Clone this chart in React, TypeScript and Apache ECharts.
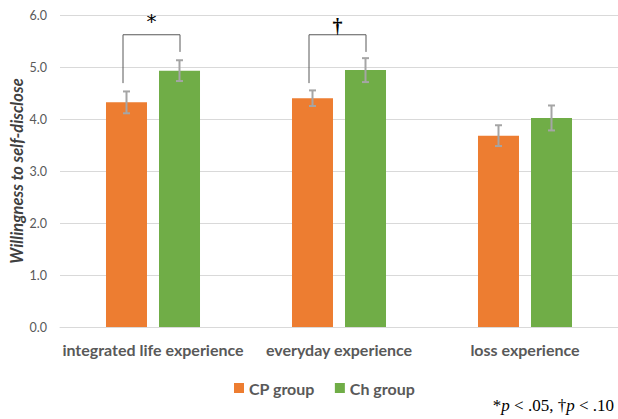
import React, { useEffect, useRef } from "react";
import * as echarts from "echarts";

// Experience categories on the x axis
const categories = ["integrated life experience", "everyday experience", "loss experience"];
// Group means
const cpValues = [4.32, 4.4, 3.68];
const chValues = [4.93, 4.94, 4.02];
// Error bar half-lengths
const cpErrors = [0.21, 0.15, 0.2];
const chErrors = [0.2, 0.23, 0.24];
// Significance brackets: category, left leg end, right leg end, bracket top, mark
const bracketCats = [0, 1];
const bracketLeftEnds = [4.69, 4.69];
const bracketRightEnds = [5.29, 5.29];
const bracketTops = [5.62, 5.62];
const bracketMarks = ["*", "†"];
// Y-axis ticks
const yTicks = { min: 0, max: 6, interval: 1 };

const BAR_WIDTH = 41;
const BAR_GAP_PX = 12;
const BAR_OFFSET = (BAR_WIDTH + BAR_GAP_PX) / 2;
const ORANGE = "#ED7D31";
const GREEN = "#70AD47";
const ERR_COLOR = "#a5a5a5";
const TEXT_DARK = "#404040";
const TEXT_MID = "#595959";
const FONT = "Lato, 'Open Sans', sans-serif";
const SERIF = "'Liberation Serif', 'Times New Roman', serif";

function errorSeries(name: string, values: number[], errors: number[], offset: number) {
  return {
    name: name + " error",
    type: "custom",
    z: 5,
    silent: true,
    data: values.map((v, i) => [i, v - errors[i], v + errors[i]]),
    renderItem: (_params: any, api: any) => {
      const cat = api.value(0);
      const lo = api.coord([cat, api.value(1)]);
      const hi = api.coord([cat, api.value(2)]);
      const x = lo[0] + offset;
      const cap = 3.5;
      const style = { stroke: ERR_COLOR, lineWidth: 2 };
      return {
        type: "group",
        children: [
          { type: "line", shape: { x1: x, y1: hi[1], x2: x, y2: lo[1] }, style },
          { type: "line", shape: { x1: x - cap, y1: hi[1], x2: x + cap, y2: hi[1] }, style },
          { type: "line", shape: { x1: x - cap, y1: lo[1], x2: x + cap, y2: lo[1] }, style },
        ],
      };
    },
  };
}

export default function App() {
  const ref = useRef<HTMLDivElement>(null);

  useEffect(() => {
    if (!ref.current) return;
    const chart = echarts.init(ref.current, null, { renderer: "svg" });

    const option: any = {
      animation: false,
      backgroundColor: "#ffffff",
      grid: { left: 60, top: 15, width: 561, height: 312 },
      legend: {
        data: ["CP group", "Ch group"],
        left: 229,
        top: 375,
        icon: "rect",
        itemWidth: 10,
        itemHeight: 10,
        itemGap: 20,
        textStyle: { color: TEXT_MID, fontFamily: FONT, fontWeight: "bold", fontSize: 16 },
      },
      xAxis: {
        type: "category",
        data: categories,
        axisTick: { show: false },
        axisLine: { lineStyle: { color: "#d9d9d9", width: 1 } },
        axisLabel: {
          color: TEXT_MID,
          fontFamily: FONT,
          fontWeight: "bold",
          fontSize: 16,
          margin: 14,
          interval: 0,
        },
      },
      yAxis: {
        type: "value",
        min: yTicks.min,
        max: yTicks.max,
        interval: yTicks.interval,
        axisLine: { show: false },
        axisTick: { show: false },
        splitLine: { lineStyle: { color: "#d9d9d9", width: 1 } },
        axisLabel: {
          color: TEXT_MID,
          fontFamily: FONT,
          fontSize: 12.5,
          margin: 13,
          formatter: (v: number) => v.toFixed(1),
        },
      },
      graphic: [
        {
          type: "text",
          x: 17,
          y: 171,
          rotation: Math.PI / 2,
          style: {
            text: "Willingness to self-disclose",
            fill: TEXT_DARK,
            font: "italic bold 16.5px " + FONT,
            align: "center",
            verticalAlign: "middle",
          },
        },
        {
          type: "text",
          x: 614,
          y: 405,
          style: {
            text: "{n|*}{i|p}{n| < .05, †}{i|p}{n| < .10}",
            align: "right",
            verticalAlign: "middle",
            rich: {
              n: { fontFamily: SERIF, fontSize: 17, fill: "#000" },
              i: { fontFamily: SERIF, fontSize: 17, fontStyle: "italic", fill: "#000" },
            },
          },
        },
      ],
      series: [
        {
          name: "CP group",
          type: "bar",
          barWidth: BAR_WIDTH,
          barGap: ((BAR_GAP_PX / BAR_WIDTH) * 100).toFixed(1) + "%",
          itemStyle: { color: ORANGE },
          data: cpValues,
        },
        {
          name: "Ch group",
          type: "bar",
          barWidth: BAR_WIDTH,
          itemStyle: { color: GREEN },
          data: chValues,
        },
        errorSeries("CP group", cpValues, cpErrors, -BAR_OFFSET),
        errorSeries("Ch group", chValues, chErrors, BAR_OFFSET),
        {
          name: "brackets",
          type: "custom",
          z: 6,
          silent: true,
          data: bracketCats.map((c, i) => [c, bracketLeftEnds[i], bracketRightEnds[i], bracketTops[i]]),
          renderItem: (params: any, api: any) => {
            const cat = api.value(0);
            const pL = api.coord([cat, api.value(1)]);
            const pR = api.coord([cat, api.value(2)]);
            const pT = api.coord([cat, api.value(3)]);
            const xl = pL[0] - 30;
            const xr = pL[0] + 27;
            const mark = bracketMarks[params.dataIndex];
            const isStar = mark === "*";
            return {
              type: "group",
              children: [
                {
                  type: "polyline",
                  shape: {
                    points: [
                      [xl, pL[1]],
                      [xl, pT[1]],
                      [xr, pT[1]],
                      [xr, pR[1]],
                    ],
                  },
                  style: { stroke: "#595959", lineWidth: 1, fill: "none" },
                },
                {
                  type: "text",
                  x: (xl + xr) / 2,
                  y: isStar ? pT[1] - 4 : pT[1] + 1,
                  style: {
                    text: mark,
                    fill: "#000",
                    font: isStar ? "20px 'DejaVu Sans', sans-serif" : "bold 20px " + SERIF,
                    align: "center",
                    verticalAlign: "bottom",
                  },
                },
              ],
            };
          },
        },
      ],
    };

    chart.setOption(option);
    return () => chart.dispose();
  }, []);

  return (
    <div
      ref={ref}
      style={{ position: "absolute", left: 0, top: 0, width: 618, height: 419 }}
    />
  );
}
